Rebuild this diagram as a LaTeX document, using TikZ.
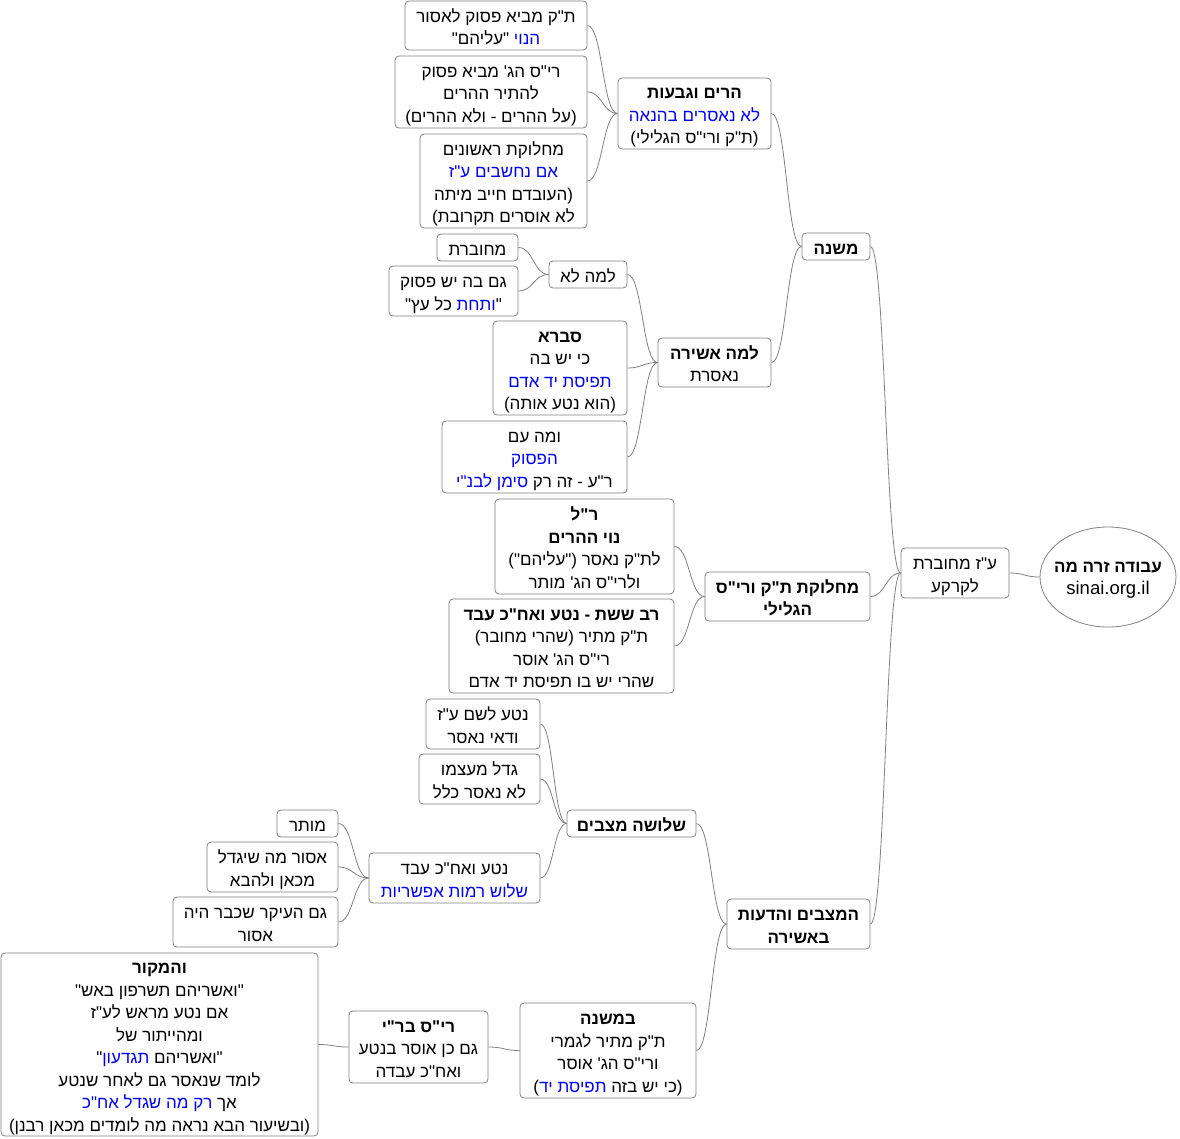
\documentclass[tikz,border=0pt]{standalone}
\usepackage{fontspec}
\usepackage{xcolor}
\newfontfamily\hebfont[Script=Hebrew]{Liberation Sans}
\TeXXeTstate=1
\usetikzlibrary{shapes.geometric,calc}
\definecolor{linegray}{RGB}{128,128,128}
\newcommand\R[1]{\beginR #1\endR}
\newcommand\B[1]{\textcolor{blue}{#1}}
% blue words inside \R: the segment is reversed, so the specials are written swapped
\newcommand\BR[1]{\special{color pop}#1\special{color push rgb 0 0 1}}
\tikzset{
  topic/.style={draw=linegray, line width=0.8pt, rounded corners=4pt, fill=white,
    align=center, inner sep=0pt, font=\hebfont\fontsize{17}{22.5}\selectfont},
  nlines/.code={\pgfmathsetlengthmacro\tmpht{22.5*#1-4.7}\tikzset{text height=\tmpht, text depth=2pt}},
  edge/.style={draw=linegray, line width=0.8pt}
}

\begin{document}
\begin{tikzpicture}[x=1pt,y=-1pt]
                \useasboundingbox (0,0) rectangle (1180,1138);
                % root and first level
                \node[ellipse, draw=linegray, line width=0.8pt, minimum width=136, minimum height=100, inner sep=0pt] (root) at (1108,577) {};
                \node[align=center, inner sep=0pt, font=\hebfont\fontsize{17}{22.5}\selectfont] (roottext) at (1108,580) {{\bfseries\R{עבודה זרה מה}}\\{\fontsize{18.5}{22.5}\selectfont sinai.org.il}};
                \node[topic, nlines=2, minimum width=108, minimum height=50] (azm) at (955,573) {\R{ע"ז מחוברת}\\\R{לקרקע}};
                \node[topic, nlines=1, minimum width=68, minimum height=27] (mishna) at (836,246.5) {{\bfseries\R{משנה}}};
                \node[topic, nlines=2, minimum width=165, minimum height=49] (machloket) at (787.5,596.5) {{\bfseries\R{מחלוקת ת"ק ורי"ס}}\\{\bfseries\R{הגלילי}}};
                \node[topic, nlines=2, minimum width=143, minimum height=50] (matzavim) at (798.5,924) {{\bfseries\R{המצבים והדעות}}\\{\bfseries\R{באשירה}}};

                % mishna
                \node[topic, nlines=3, minimum width=153, minimum height=71] (harim) at (694.5,113.5) {{\bfseries\R{הרים וגבעות}}\\\B{\R{לא נאסרים בהנאה}}\\\R{(ת"ק ורי"ס הגלילי)}};
                \node[topic, nlines=2, minimum width=113, minimum height=49] (asheira) at (714.5,362.5) {{\bfseries\R{למה אשירה}}\\\R{נאסרת}};
                \node[topic, nlines=2, minimum width=182, minimum height=49] (tkmevi) at (496,25.5) {\R{ת"ק מביא פסוק לאסור}\\\R{\BR{הנוי} "עליהם"}};
                \node[topic, nlines=3, minimum width=192, minimum height=72] (rsmevi) at (491,92) {\R{רי"ס הג' מביא פסוק}\\\R{להתיר ההרים}\\\R{(על ההרים - ולא ההרים)}};
                \node[topic, nlines=4, minimum width=167, minimum height=94] (rishonim) at (503.5,181) {\R{מחלוקת ראשונים}\\\B{\R{אם נחשבים ע"ז}}\\\R{(העובדם חייב מיתה}\\\R{לא אוסרים תקרובת)}};
                \node[topic, nlines=1, minimum width=78, minimum height=27] (lamalo) at (588,274.5) {\R{למה לא}};
                \node[topic, nlines=1, minimum width=81, minimum height=27] (mechuberet) at (477.5,247.5) {\R{מחוברת}};
                \node[topic, nlines=2, minimum width=129, minimum height=50] (gamba) at (453.5,291) {\R{גם בה יש פסוק}\\\R{"\BR{ותחת} כל עץ"}};
                \node[topic, nlines=4, minimum width=134, minimum height=94] (sevara) at (560,368) {{\bfseries\R{סברא}}\\\R{כי יש בה}\\\B{\R{תפיסת יד אדם}}\\\R{(הוא נטע אותה)}};
                \node[topic, nlines=3, minimum width=185, minimum height=72] (umaim) at (534.5,457) {\R{ומה עם}\\\B{\R{הפסוק}}\\\R{ר"ע - זה רק \BR{סימן לבנ"י}}};

                % machloket
                \node[topic, nlines=4, minimum width=179, minimum height=95] (reshlakish) at (584.5,546.5) {{\bfseries\R{ר"ל}}\\{\bfseries\R{נוי ההרים}}\\\R{לת"ק נאסר ("עליהם")}\\\R{ולרי"ס הג' מותר}};
                \node[topic, nlines=4, minimum width=225, minimum height=94] (ravsheshet) at (561.5,646) {{\bfseries\R{רב ששת - נטע ואח"כ עבד}}\\\R{ת"ק מתיר (שהרי מחובר)}\\\R{רי"ס הג' אוסר}\\\R{שהרי יש בו תפיסת יד אדם}};

                % matzavim
                \node[topic, nlines=1, minimum width=129, minimum height=27] (shlosha) at (631.5,823.5) {{\bfseries\R{שלושה מצבים}}};
                \node[topic, nlines=2, minimum width=114, minimum height=50] (nataleshem) at (483,724) {\R{נטע לשם ע"ז}\\\R{ודאי נאסר}};
                \node[topic, nlines=2, minimum width=121, minimum height=50] (gadal) at (479.5,779) {\R{גדל מעצמו}\\\R{לא נאסר כלל}};
                \node[topic, nlines=2, minimum width=171, minimum height=50] (nataavad) at (454.5,878) {\R{נטע ואח"כ עבד}\\\B{\R{שלוש רמות אפשריות}}};
                \node[topic, nlines=1, minimum width=61, minimum height=27] (mutar) at (307.5,823.5) {\R{מותר}};
                \node[topic, nlines=2, minimum width=131, minimum height=50] (asurma) at (272.5,867) {\R{אסור מה שיגדל}\\\R{מכאן ולהבא}};
                \node[topic, nlines=2, minimum width=165, minimum height=50] (haikar) at (255.5,922) {\R{גם העיקר שכבר היה}\\\R{אסור}};
                \node[topic, nlines=4, minimum width=176, minimum height=95] (bamishna) at (608,1050.5) {{\bfseries\R{במשנה}}\\\R{ת"ק מתיר לגמרי}\\\R{ורי"ס הג' אוסר}\\\R{(כי יש בזה \BR{תפיסת יד})}};
                \node[topic, nlines=3, minimum width=139, minimum height=72] (rsbri) at (418.5,1047) {{\bfseries\R{רי"ס בר"י}}\\\R{גם כן אוסר בנטע}\\\R{ואח"כ עבדה}};
                \node[topic, nlines=8, minimum width=317, minimum height=183] (makor) at (159.5,1044.5) {{\bfseries\R{והמקור}}\\\R{"ואשריהם תשרפון באש"}\\\R{אם נטע מראש לע"ז}\\\R{ומהייתור של}\\\R{"ואשריהם \BR{תגדעון}"}\\\R{לומד שנאסר גם לאחר שנטע}\\\R{אך \BR{רק מה שגדל אח"כ}}\\\R{(ובשיעור הבא נראה מה לומדים מכאן רבנן)}};

                % connectors, parent west to child east
                \foreach \src/\dst in {root/azm, azm/mishna, azm/machloket, azm/matzavim,
                    mishna/harim, mishna/asheira, harim/tkmevi, harim/rsmevi, harim/rishonim,
                    asheira/lamalo, asheira/sevara, asheira/umaim, lamalo/mechuberet, lamalo/gamba,
                    machloket/reshlakish, machloket/ravsheshet, matzavim/shlosha, matzavim/bamishna,
                    shlosha/nataleshem, shlosha/gadal, shlosha/nataavad,
                    nataavad/mutar, nataavad/asurma, nataavad/haikar, bamishna/rsbri, rsbri/makor} {
                    \draw[edge] let \p1=(\src.west), \p2=(\dst.east), \n1={(\x1-\x2)/2} in
                        (\p1) .. controls +(-\n1,0) and +(\n1,0) .. (\p2);
                }
\end{tikzpicture}
\end{document}
